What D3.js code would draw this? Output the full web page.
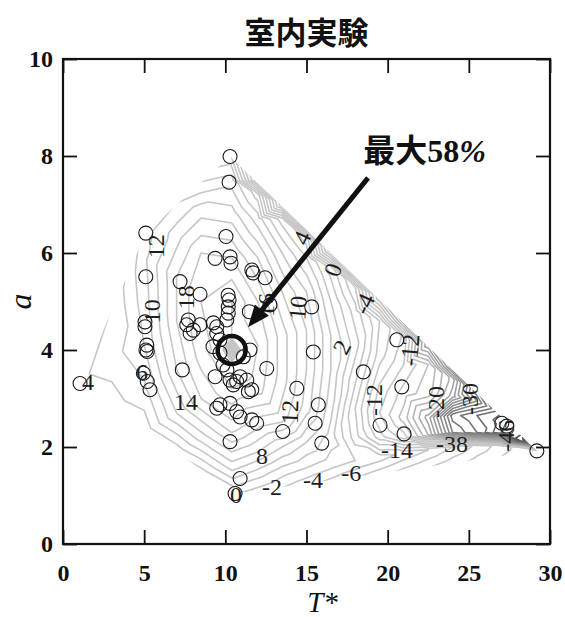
<!DOCTYPE html>
<html lang="ja">
<head>
<meta charset="utf-8">
<title>室内実験</title>
<script src="https://cdn.jsdelivr.net/npm/d3@7/dist/d3.min.js"></script>
<style>
  html, body { margin: 0; padding: 0; background: #fff; }
  svg { display: block; }
</style>
</head>
<body>
<svg id="chart" width="565" height="617"></svg>
<script>
// ---------------- measured runs (T*, a) ----------------
const runT = [10.29,10.23,10.04,9.37,10.29,10.35,11.63,11.71,12.45,7.21,
              5.10,5.10,8.44,10.17,10.23,10.18,10.18,10.09,11.48,5.05,
              5.05,7.72,9.26,8.44,5.16,5.11,5.19,7.83,8.03,1.05,
              4.95,5.19,5.36,7.35,9.37,10.29,10.70,10.91,10.49,9.47,
              9.67,11.42,12.55,9.47,10.29,10.70,10.91,11.63,11.93,10.29,
              10.91,10.60,13.54,15.73,15.53,15.94,9.67,15.42,18.50,20.56,
              20.87,14.40,19.53,21.01,27.03,27.34,29.19,15.32,12.75,7.62,
              9.47,9.24,9.67,11.52,11.11,11.32,11.63,9.86,10.10];
const runA = [7.99,7.46,6.34,5.89,5.92,5.79,5.65,5.59,5.49,5.41,
              6.41,5.51,5.15,5.13,5.03,4.89,4.76,4.62,4.79,4.58,
              4.48,4.62,4.56,4.52,4.10,4.00,3.97,4.34,4.41,3.31,
              3.52,3.35,3.18,3.59,3.45,3.38,3.35,3.45,3.28,4.34,
              4.21,3.14,3.62,2.80,2.90,2.73,2.62,2.56,2.49,2.11,
              1.35,1.04,2.32,2.87,2.49,2.08,2.87,3.96,3.55,4.21,
              3.24,3.21,2.45,2.27,2.49,2.43,1.92,4.89,4.93,4.52,
              4.48,4.07,3.94,4.00,3.86,3.38,3.18,3.69,3.59];

// ---------------- response surface nodes [T*, a, value %] ----------------
// nodes just outside the outline of the runs
const edgeNodes = [
  [0.93,3.31,3.5],[3.0,4.88,4],[5.04,6.47,9],[7.0,7.03,10],[8.5,7.47,8],
  [10.29,8.06,4],[12.0,7.50,-8],[13.5,7.02,-10],[15.0,6.54,-12],[16.5,6.06,-14],
  [18.0,5.57,-17],[19.5,5.09,-20],[21.0,4.61,-24],[22.5,4.13,-28],[24.0,3.65,-34],
  [25.5,3.17,-40],[27.0,2.69,-46],[28.3,2.27,-52],[29.32,1.92,-16],
  [28.3,1.82,-15.3],[27.0,1.76,-14.2],[25.5,1.69,-12.9],[24.0,1.61,-11.6],
  [22.5,1.54,-10.3],[21.0,1.47,-9],[19.5,1.40,-7.6],[18.0,1.33,-6.3],
  [16.5,1.26,-4.9],[15.0,1.19,-3.6],[13.5,1.12,-2.3],[12.0,1.05,-1.2],
  [10.6,0.97,-0.5],[8.5,1.48,1],[7.0,1.84,2],[5.0,2.31,2.5],[3.0,2.79,3]
];
// interior nodes, column by column
const innerNodes = [
  [3.0,3.9,5],
  [5.0,3.2,5.5],[5.0,4.1,8],[5.0,5.0,9],[5.0,5.9,9.5],
  [7.0,2.7,10],[7.0,3.6,14],[7.0,4.6,16],[7.0,5.5,16],[7.0,6.4,13],
  [8.5,2.2,9],[8.5,3.0,16],[8.5,3.9,19],[8.5,5.0,20],[8.5,6.0,18],[8.5,6.9,13],
  [10.4,1.6,7],[10.4,2.4,15],[10.4,3.2,20],[10.4,5.0,22],[10.4,5.9,18],[10.4,6.8,13],[10.4,7.5,9],
  [12.0,1.45,3],[12.0,1.9,8],[12.0,2.5,13],[12.0,3.2,19],[12.0,4.1,20],[12.0,5.0,18],[12.0,5.9,14],[12.0,6.7,9],[12.0,7.2,5],
  [13.5,1.5,1],[13.5,2.0,6],[13.5,2.6,13],[13.5,3.4,15],[13.5,4.3,15],[13.5,5.2,12],[13.5,6.0,8],[13.5,6.7,3],
  [15.0,1.57,0],[15.0,2.1,4],[15.0,2.8,9],[15.0,3.6,10],[15.0,4.4,10],[15.0,5.2,8],[15.0,5.9,4],[15.0,6.3,1],
  [16.5,1.65,-1],[16.5,2.2,1],[16.5,2.9,3],[16.5,3.6,4],[16.5,4.3,4],[16.5,5.0,2],[16.5,5.7,-1],
  [18.0,1.72,-2],[18.0,2.2,-5],[18.0,2.8,-6],[18.0,3.3,-4],[18.0,4.1,-1],[18.0,4.8,-3],[18.0,5.3,-6],
  [19.5,1.79,-3],[19.5,2.2,-11],[19.5,2.7,-14],[19.5,3.2,-12.5],[19.5,3.9,-9],[19.5,4.6,-8],
  [21.0,1.87,-4.5],[21.0,2.2,-15],[21.0,2.6,-19],[21.0,3.1,-17],[21.0,3.7,-14],[21.0,4.25,-12.5],
  [22.5,1.94,-6],[22.5,2.25,-24],[22.5,2.6,-27],[22.5,3.1,-19],[22.5,3.7,-18],
  [24.0,2.0,-8],[24.0,2.3,-38],[24.0,2.65,-41],[24.0,3.05,-27],[24.0,3.4,-25],
  [25.5,2.02,-10.5],[25.5,2.3,-42],[25.5,2.65,-44],[25.5,2.95,-36],
  [27.0,2.02,-13],[27.0,2.3,-48],[27.0,2.52,-47],
  [28.3,1.98,-15],[28.3,2.12,-54]
];
// the best run and its close neighbourhood
const peakNodes = [
  [10.39,4.0,58],[9.85,4.0,22],[10.95,4.0,22],[10.39,3.76,22],[10.39,4.24,22]
];

// contour labels (value written on the line)
const labelLevels = [4,6,10,12,18,14,16,10,4,0,-4,2,-12,-12,12,8,0,-2,-4,-6,-14,-38,-20,-30,-46];

const xTicks = [0,5,10,15,20,25,30];
const yTicks = [0,2,4,6,8,10];
const peakRun = [10.39, 4.0];
const peakNote = ["最大", "58", "%"];

// ---------------- layout ----------------
const W = 565, H = 617;
const x = d3.scaleLinear().domain([0, 30]).range([63, 550]);
const y = d3.scaleLinear().domain([0, 10]).range([544, 59]);
const levels = d3.range(-56, 60, 2);

// where each contour label sits: [T*, a, rotation°]
const labelSpots = [
  [1.54,3.34,0],[4.87,3.55,0],[5.48,4.80,-90],[5.73,6.14,-90],[7.58,5.09,-90],
  [7.58,2.93,0],[12.51,4.93,-90],[14.48,4.87,-85],[14.73,6.31,-65],[16.64,5.65,-70],
  [18.55,4.95,-65],[17.19,4.06,-62],[21.38,4.0,-85],[19.16,2.97,-90],[13.99,2.72,-88],
  [12.26,1.81,0],[10.66,1.01,0],[12.88,1.18,0],[15.40,1.32,0],[17.75,1.46,0],
  [20.58,1.94,0],[23.97,2.06,0],[22.98,2.93,-90],[25.08,2.99,-90],[27.30,2.23,-90]
];
const arrowFrom = [18.79, 7.55], arrowTo = [11.40, 4.47];
const noteAt = [18.5, 7.87];

const serif = "'Liberation Serif','Times New Roman',Times,serif";
const cjk = "'Noto Sans CJK JP','Noto Sans CJK SC',sans-serif";

const svg = d3.select("#chart");
svg.append("rect").attr("width", W).attr("height", H).attr("fill", "#fff");

// ---------------- contour lines (linear interpolation on a triangulation) ----------------
const nodes = edgeNodes.concat(innerNodes, peakNodes);
const pts = nodes.map(d => [x(d[0]), y(d[1])]);
const tin = d3.Delaunay.from(pts);
const tri = tin.triangles;

const runPx = runT.map((t, i) => [x(t), y(runA[i])]);
const outline = d3.polygonHull(runPx);
svg.append("clipPath").attr("id", "runHull")
  .append("path").attr("d", "M" + outline.join("L") + "Z");

const shade = d3.scaleLinear().domain([-56, -36, -16]).range(["#444444", "#888888", "#c6c6c6"]).clamp(true);

const gC = svg.append("g").attr("clip-path", "url(#runHull)");
levels.forEach(L => {
  let dstr = "";
  for (let t = 0; t < tri.length; t += 3) {
    const ids = [tri[t], tri[t + 1], tri[t + 2]];
    const cut = [];
    for (let e = 0; e < 3; e++) {
      const i = ids[e], j = ids[(e + 1) % 3];
      const zi = nodes[i][2] - L, zj = nodes[j][2] - L;
      if ((zi < 0) !== (zj < 0)) {
        const f = zi / (zi - zj);
        cut.push([pts[i][0] + f * (pts[j][0] - pts[i][0]), pts[i][1] + f * (pts[j][1] - pts[i][1])]);
      }
    }
    if (cut.length === 2) dstr += "M" + cut[0][0].toFixed(2) + "," + cut[0][1].toFixed(2) +
                                  "L" + cut[1][0].toFixed(2) + "," + cut[1][1].toFixed(2);
  }
  if (dstr) gC.append("path").attr("d", dstr).attr("fill", "none")
    .attr("stroke", shade(L)).attr("stroke-width", 1.6).attr("stroke-linecap", "round");
});

// ---------------- contour labels ----------------
svg.append("g").selectAll("text").data(labelLevels).join("text")
  .attr("transform", (d, i) => `translate(${x(labelSpots[i][0])},${y(labelSpots[i][1])}) rotate(${labelSpots[i][2]})`)
  .attr("text-anchor", "middle").attr("dominant-baseline", "central")
  .attr("font-family", serif).attr("font-size", 24).attr("fill", "#1e1e1e")
  .text(d => d);

// ---------------- runs ----------------
svg.append("g").selectAll("circle").data(runT).join("circle")
  .attr("cx", (d, i) => x(d)).attr("cy", (d, i) => y(runA[i])).attr("r", 7)
  .attr("fill", "none").attr("stroke", "#1a1a1a").attr("stroke-width", 1.1);

// best run
svg.append("circle").attr("cx", x(peakRun[0])).attr("cy", y(peakRun[1])).attr("r", 14)
  .attr("fill", "none").attr("stroke", "#111").attr("stroke-width", 4.5);

// arrow with note
const p0 = [x(arrowFrom[0]), y(arrowFrom[1])], p1 = [x(arrowTo[0]), y(arrowTo[1])];
const dx = p1[0] - p0[0], dy = p1[1] - p0[1], len = Math.hypot(dx, dy);
const ux = dx / len, uy = dy / len, hl = 22, hw = 9;
const base = [p1[0] - ux * hl, p1[1] - uy * hl];
svg.append("line").attr("x1", p0[0]).attr("y1", p0[1])
  .attr("x2", base[0] + ux * 3).attr("y2", base[1] + uy * 3)
  .attr("stroke", "#111").attr("stroke-width", 5);
svg.append("path")
  .attr("d", `M${p1[0]},${p1[1]}L${base[0] - uy * hw},${base[1] + ux * hw}L${base[0] + uy * hw},${base[1] - ux * hw}Z`)
  .attr("fill", "#111");
const note = svg.append("text").attr("x", x(noteAt[0])).attr("y", y(noteAt[1]))
  .attr("font-size", 32).attr("font-weight", 700).attr("fill", "#111");
note.append("tspan").attr("font-family", cjk).text(peakNote[0]);
note.append("tspan").attr("font-family", serif).text(peakNote[1]);
note.append("tspan").attr("font-family", serif).attr("font-style", "italic").text(peakNote[2]);

// ---------------- axes ----------------
const tick = 14;
const gx = svg.append("g").attr("transform", `translate(0,${y(0)})`)
  .call(d3.axisBottom(x).tickValues(xTicks).tickSizeInner(-tick).tickSizeOuter(0).tickPadding(20).tickFormat(d3.format("d")));
const gxt = svg.append("g").attr("transform", `translate(0,${y(10)})`)
  .call(d3.axisTop(x).tickValues(xTicks).tickSizeInner(-tick).tickSizeOuter(0).tickFormat(""));
const gy = svg.append("g").attr("transform", `translate(${x(0)},0)`)
  .call(d3.axisLeft(y).tickValues(yTicks).tickSizeInner(-tick).tickSizeOuter(0).tickPadding(10).tickFormat(d3.format("d")));
const gyr = svg.append("g").attr("transform", `translate(${x(30)},0)`)
  .call(d3.axisRight(y).tickValues(yTicks).tickSizeInner(-tick).tickSizeOuter(0).tickFormat(""));
[gx, gxt, gy, gyr].forEach(g => {
  g.select(".domain").remove();
  g.selectAll(".tick line").attr("stroke", "#111").attr("stroke-width", 1.8);
  g.selectAll(".tick text").attr("font-family", serif).attr("font-weight", 700)
    .attr("font-size", 24).attr("fill", "#111");
});
svg.append("rect").attr("x", x(0)).attr("y", y(10))
  .attr("width", x(30) - x(0)).attr("height", y(0) - y(10))
  .attr("fill", "none").attr("stroke", "#111").attr("stroke-width", 2.2);

// titles
svg.append("text").attr("x", (x(0) + x(30)) / 2).attr("y", 44).attr("text-anchor", "middle")
  .attr("font-family", cjk).attr("font-weight", 700).attr("font-size", 31).attr("fill", "#111")
  .text("室内実験");
svg.append("text").attr("x", (x(0) + x(30)) / 2 + 16).attr("y", 612).attr("text-anchor", "middle")
  .attr("font-family", serif).attr("font-style", "italic").attr("font-size", 29).attr("fill", "#111")
  .text("T*");
svg.append("text").attr("transform", `translate(31,${(y(0) + y(10)) / 2}) rotate(-90)`)
  .attr("text-anchor", "middle").attr("font-family", serif).attr("font-style", "italic")
  .attr("font-size", 32).attr("fill", "#111").text("a");
</script>
</body>
</html>
